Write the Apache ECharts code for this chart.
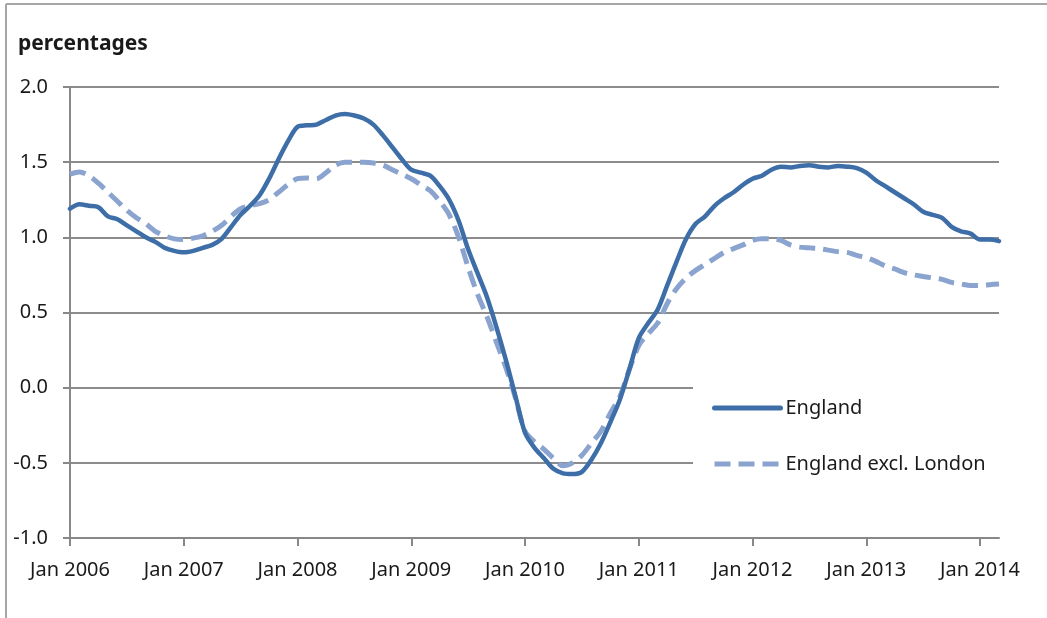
<!DOCTYPE html>
<html>
<head>
<meta charset="utf-8">
<script src="https://cdn.jsdelivr.net/npm/echarts@6/dist/echarts.min.js"></script>
<style>
html,body{margin:0;padding:0;background:#fff;}
#chart{width:1047px;height:618px;}
</style>
</head>
<body>
<div id="chart"></div>
<script>
// Months Jan 2006 .. Mar 2014
const startYear = 2006;
const monthNames = ['Jan','Feb','Mar','Apr','May','Jun','Jul','Aug','Sep','Oct','Nov','Dec'];
const nMonths = 99;
const categories = [];
for (let i = 0; i < nMonths; i++) {
  categories.push(monthNames[i % 12] + ' ' + (startYear + Math.floor(i / 12)));
}

const england = [
  1.19, 1.22, 1.21, 1.20, 1.14, 1.12, 1.08, 1.04, 1.00, 0.97, 0.93, 0.91,
  0.90, 0.91, 0.93, 0.95, 0.99, 1.07, 1.15, 1.21, 1.28, 1.39, 1.52, 1.64,
  1.735, 1.745, 1.75, 1.78, 1.81, 1.82, 1.81, 1.79, 1.75, 1.68, 1.60, 1.52,
  1.45, 1.43, 1.41, 1.34, 1.25, 1.11, 0.92, 0.76, 0.60, 0.40, 0.18, -0.06,
  -0.30, -0.40, -0.47, -0.54, -0.57, -0.575, -0.56, -0.48, -0.37, -0.23, -0.08, 0.12,
  0.33, 0.43, 0.52, 0.68, 0.84, 0.99, 1.09, 1.14, 1.21, 1.26, 1.30, 1.35,
  1.39, 1.41, 1.45, 1.47, 1.465, 1.475, 1.48, 1.47, 1.465, 1.475, 1.47, 1.46,
  1.43, 1.38, 1.34, 1.30, 1.26, 1.22, 1.17, 1.15, 1.13, 1.07, 1.04, 1.025,
  0.985, 0.985, 0.975
];

const englandExclLondon = [
  1.42, 1.435, 1.41, 1.36, 1.30, 1.24, 1.18, 1.13, 1.09, 1.04, 1.01, 0.99,
  0.985, 0.995, 1.01, 1.04, 1.08, 1.14, 1.19, 1.21, 1.225, 1.25, 1.30, 1.35,
  1.39, 1.395, 1.39, 1.43, 1.48, 1.50, 1.50, 1.50, 1.495, 1.48, 1.45, 1.42,
  1.39, 1.35, 1.31, 1.24, 1.15, 1.00, 0.80, 0.62, 0.47, 0.30, 0.13, -0.07,
  -0.29, -0.36, -0.41, -0.47, -0.52, -0.50, -0.45, -0.37, -0.29, -0.17, -0.06, 0.12,
  0.28, 0.36, 0.43, 0.56, 0.66, 0.73, 0.78, 0.82, 0.86, 0.90, 0.925, 0.95,
  0.98, 0.99, 0.99, 0.98, 0.95, 0.935, 0.93, 0.925, 0.915, 0.905, 0.90, 0.88,
  0.865, 0.84, 0.81, 0.79, 0.765, 0.75, 0.74, 0.73, 0.72, 0.70, 0.69, 0.68,
  0.68, 0.685, 0.69
];

const seriesNames = ['England', 'England excl. London'];
const yTitle = 'percentages';

const FONT = '"Noto Sans", sans-serif';
const chart = echarts.init(document.getElementById('chart'), null, {renderer: 'canvas'});
chart.setOption({
  animation: false,
  backgroundColor: '#fff',
  textStyle: {fontFamily: FONT},
  title: {
    text: yTitle,
    left: 13,
    top: 29,
    textStyle: {fontFamily: FONT, fontSize: 21, fontWeight: 'bold', color: '#1a1a1a'}
  },
  graphic: [
    {type: 'line', shape: {x1: 6, y1: 4, x2: 1047, y2: 4}, style: {stroke: '#a6a6a6', lineWidth: 2}},
    {type: 'line', shape: {x1: 6, y1: 4, x2: 6, y2: 618}, style: {stroke: '#a6a6a6', lineWidth: 2}}
  ],
  grid: {left: 70, right: 48, top: 87, bottom: 80, containLabel: false},
  legend: {
    orient: 'vertical',
    left: 693,
    top: 378,
    padding: [20, 16, 20, 19],
    backgroundColor: '#fff',
    itemWidth: 66,
    itemHeight: 20,
    itemGap: 36,
    itemStyle: {opacity: 0, borderWidth: 0},
    lineStyle: {width: 5},
    textStyle: {fontFamily: FONT, fontSize: 20, color: '#1a1a1a', lineHeight: 20},
    data: seriesNames
  },
  xAxis: {
    type: 'category',
    data: categories,
    boundaryGap: false,
    axisLine: {onZero: false, lineStyle: {color: '#888', width: 2}},
    axisTick: {
      show: true, length: 8, inside: false,
      interval: function (i) { return i % 12 === 0; },
      lineStyle: {color: '#888', width: 2}
    },
    axisLabel: {
      interval: function (i) { return i % 12 === 0; },
      margin: 22,
      fontFamily: FONT, fontSize: 20, color: '#1a1a1a'
    },
    splitLine: {show: false}
  },
  yAxis: {
    type: 'value',
    min: -1, max: 2, interval: 0.5,
    axisLine: {show: true, lineStyle: {color: '#888', width: 2}},
    axisTick: {show: true, length: 7, lineStyle: {color: '#888', width: 2}},
    axisLabel: {
      margin: 22,
      fontFamily: FONT, fontSize: 20, color: '#1a1a1a',
      formatter: function (v) { return v.toFixed(1); }
    },
    splitLine: {show: true, lineStyle: {color: '#8c8c8c', width: 2}}
  },
  series: [
    {
      name: seriesNames[0],
      type: 'line',
      data: england,
      symbol: 'none',
      smooth: 0.3,
      z: 3,
      lineStyle: {color: '#3e6ea8', width: 4.5, cap: 'round', join: 'round'},
      itemStyle: {color: '#3e6ea8'}
    },
    {
      name: seriesNames[1],
      type: 'line',
      data: englandExclLondon,
      symbol: 'none',
      smooth: 0.3,
      z: 2,
      lineStyle: {color: '#8aa4cf', width: 5, type: [16, 8], cap: 'butt'},
      itemStyle: {color: '#8aa4cf'}
    }
  ]
});
</script>
</body>
</html>
